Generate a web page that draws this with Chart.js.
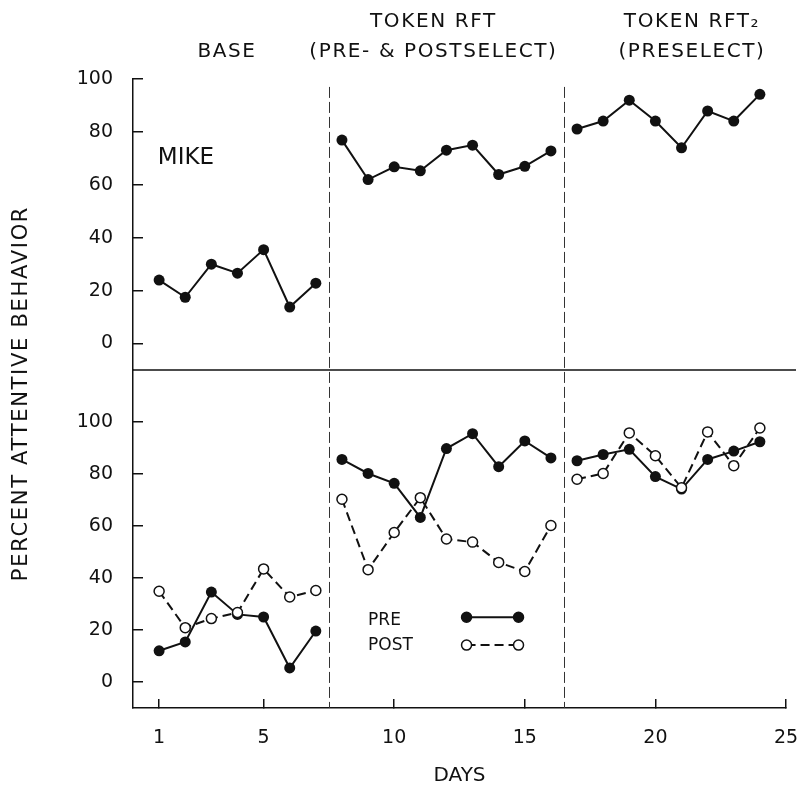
<!DOCTYPE html>
<html>
<head>
<meta charset="utf-8">
<script src="https://cdn.jsdelivr.net/npm/chart.js@4/dist/chart.umd.min.js"></script>
<style>
  body { margin: 0; background: #fff; }
</style>
</head>
<body>
<canvas id="chart" width="801" height="788"></canvas>
<script>
// Days of the study and where the phases change
const days = [1, 2, 3, 4, 5, 6, 7, 8, 9, 10, 11, 12, 13, 14, 15, 16, 17, 18, 19, 20, 21, 22, 23, 24];
const phaseBreaks = [7.5, 16.5];
const phaseNames = [["BASE"], ["TOKEN RFT", "(PRE- & POSTSELECT)"], ["TOKEN RFT\u2082", "(PRESELECT)"]];
const xTicks = [1, 5, 10, 15, 20, 25];
const yTicks = [0, 20, 40, 60, 80, 100];

// Top panel - Mike
const mike = [24, 17.5, 30, 26.6, 35.5, 13.8, 22.8, 76.9, 62, 66.8, 65.3, 73.1, 75, 63.9, 67, 72.8, 81.1, 84.1, 92, 84.1, 74, 87.9, 84.1, 94.2];

// Bottom panel - preselected vs postselected
const pre = [12, 15.4, 34.6, 26, 25, 5.4, 19.6, 85.6, 80.2, 76.4, 63.3, 89.8, 95.5, 82.8, 92.7, 86.2, 85.1, 87.5, 89.5, 79, 74.2, 85.6, 88.8, 92.4];
const post = [34.9, 20.9, 24.4, 26.7, 43.5, 32.7, 35.2, 70.3, 43.2, 57.5, 70.9, 55, 53.8, 46, 42.5, 60.2, 78, 80.2, 95.8, 87, 74.7, 96.2, 83.2, 97.7];

const ink = "#111";
const tickFont = { family: "DejaVu Sans", size: 19 };

// turn a series into x/y points, with a gap at every phase change
function toPoints(values) {
    const points = [];
    days.forEach((d, i) => {
        if (i > 0) {
            phaseBreaks.forEach(b => {
                if (days[i - 1] < b && d > b) points.push({ x: b, y: null });
            });
        }
        points.push({ x: d, y: values[i] });
    });
    return points;
}

function yAxis(min, max, weight) {
    return {
        type: "linear",
        position: "left",
        stack: "panels",
        stackWeight: weight,
        min: min,
        max: max,
        afterBuildTicks: s => { s.ticks = yTicks.map(v => ({ value: v })); },
        afterFit: s => { s.width = 133; },
        grid: { display: true, drawOnChartArea: false, tickLength: -10, color: ink, lineWidth: 1.5 },
        border: { display: true, color: ink, width: 1.5 },
        ticks: { padding: 30, color: ink, font: tickFont }
    };
}

// titles, phase lines, divider and legend
const decor = {
    id: "decor",
    beforeDatasetsDraw(chart) {
        const { ctx, chartArea, scales } = chart;
        const x = scales.x, yTop = scales.yTop;
        ctx.save();
        ctx.strokeStyle = "#333";
        ctx.lineWidth = 1;
        ctx.setLineDash([11, 4]);
        phaseBreaks.forEach(b => {
            const px = Math.round(x.getPixelForValue(b)) + 0.5;
            ctx.beginPath();
            ctx.moveTo(px, yTop.getPixelForValue(97));
            ctx.lineTo(px, chartArea.bottom);
            ctx.stroke();
        });
        ctx.setLineDash([]);
        ctx.strokeStyle = ink;
        ctx.lineWidth = 1.5;
        ctx.beginPath();
        ctx.moveTo(chartArea.left, yTop.bottom);
        ctx.lineTo(chartArea.right + 10, yTop.bottom);
        ctx.stroke();
        ctx.restore();
    },
    afterDraw(chart) {
        const { ctx, chartArea, scales } = chart;
        const x = scales.x, yTop = scales.yTop, yBot = scales.yBot;
        ctx.save();
        ctx.fillStyle = ink;
        ctx.textBaseline = "middle";

        // phase titles
        const titleDays = [3.6, 11.5, 21.4];
        ctx.font = "20px 'DejaVu Sans'";
        ctx.letterSpacing = "1.6px";
        ctx.textAlign = "center";
        phaseNames.forEach((lines, i) => {
            const cx = x.getPixelForValue(titleDays[i]);
            lines.slice().reverse().forEach((t, j) => {
                ctx.fillText(t, cx, chartArea.top - 27 - j * 30);
            });
        });

        // subject name
        ctx.letterSpacing = "0px";
        ctx.font = "23px 'DejaVu Sans'";
        ctx.textAlign = "left";
        ctx.fillText("MIKE", x.getPixelForValue(0.95), yTop.getPixelForValue(70));

        // y title
        ctx.save();
        ctx.translate(22, (chartArea.top + chartArea.bottom) / 2);
        ctx.rotate(-Math.PI / 2);
        ctx.textAlign = "center";
        ctx.font = "21px 'DejaVu Sans'";
        ctx.letterSpacing = "1.7px";
        ctx.fillText("PERCENT ATTENTIVE BEHAVIOR", 0, 0);
        ctx.restore();

        // legend
        const rows = [{ label: "PRE", ty: 23.7, ly: 24.9, filled: true }, { label: "POST", ty: 14.2, ly: 14.2, filled: false }];
        ctx.font = "17px 'DejaVu Sans'";
        ctx.textAlign = "left";
        rows.forEach(r => {
            ctx.fillStyle = ink;
            ctx.fillText(r.label, x.getPixelForValue(9), yBot.getPixelForValue(r.ty));
            const x1 = x.getPixelForValue(12.77), x2 = x.getPixelForValue(14.76);
            const ly = yBot.getPixelForValue(r.ly);
            ctx.strokeStyle = ink;
            ctx.lineWidth = 2;
            ctx.setLineDash(r.filled ? [] : [9, 5]);
            ctx.beginPath();
            ctx.moveTo(x1, ly);
            ctx.lineTo(x2, ly);
            ctx.stroke();
            ctx.setLineDash([]);
            [x1, x2].forEach(px => {
                ctx.beginPath();
                ctx.arc(px, ly, 5, 0, Math.PI * 2);
                ctx.fillStyle = r.filled ? ink : "#fff";
                ctx.fill();
                ctx.lineWidth = 1.5;
                ctx.stroke();
            });
        });
        ctx.restore();
    }
};

new Chart(document.getElementById("chart"), {
    type: "line",
    data: {
        datasets: [
            {
                label: "POST",
                data: toPoints(post),
                yAxisID: "yBot",
                borderColor: ink,
                borderWidth: 2,
                borderDash: [9, 5],
                pointRadius: 5,
                pointBackgroundColor: "#fff",
                pointBorderColor: ink,
                pointBorderWidth: 1.5
            },
            {
                label: "PRE",
                data: toPoints(pre),
                yAxisID: "yBot",
                borderColor: ink,
                borderWidth: 2,
                pointRadius: 5.5,
                pointBackgroundColor: ink,
                pointBorderColor: ink,
                pointBorderWidth: 0
            },
            {
                label: "MIKE",
                data: toPoints(mike),
                yAxisID: "yTop",
                borderColor: ink,
                borderWidth: 2,
                pointRadius: 5.5,
                pointBackgroundColor: ink,
                pointBorderColor: ink,
                pointBorderWidth: 0
            }
        ]
    },
    options: {
        responsive: false,
        animation: false,
        layout: { padding: { top: 79, right: 15, left: 0, bottom: 0 } },
        plugins: { legend: { display: false }, tooltip: { enabled: false } },
        scales: {
            x: {
                type: "linear",
                min: 0,
                max: 25,
                afterBuildTicks: s => { s.ticks = xTicks.map(v => ({ value: v })); },
                // keep the label padding from pushing the plot in on the right
                afterFit: s => { s.height = 80; s.paddingLeft = 0; s.paddingRight = 0; },
                grid: { display: true, drawOnChartArea: false, tickLength: -9, color: ink, lineWidth: 1.5 },
                border: { display: true, color: ink, width: 1.5 },
                ticks: { padding: 28, color: ink, font: tickFont, maxRotation: 0 },
                title: { display: true, text: "DAYS", color: ink, font: { family: "DejaVu Sans", size: 20 }, padding: { top: 0, bottom: 0 } }
            },
            yBot: yAxis(-10, 120, 338),
            yTop: yAxis(-10, 100, 291)
        }
    },
    plugins: [decor]
});
</script>
</body>
</html>
